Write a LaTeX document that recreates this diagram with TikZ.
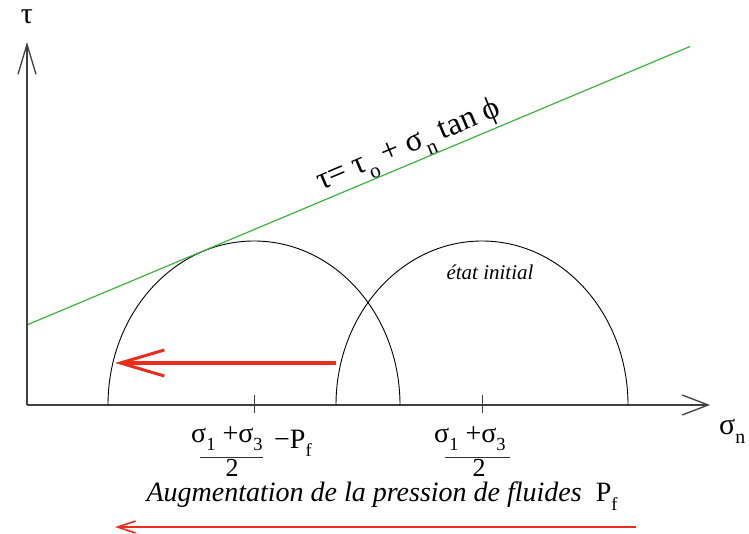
\documentclass[tikz,border=0pt]{standalone}
\usepackage{fontspec}
\setmainfont{Liberation Serif}
\usepackage{graphicx}
\usetikzlibrary{arrows.meta}
\definecolor{lgreen}{RGB}{60,180,60}
\definecolor{ared}{RGB}{235,45,30}
\newcommand{\lsub}[1]{\raisebox{-0.3em}{\scalebox{0.66}{#1}}}
\begin{document}
\begin{tikzpicture}[x=1pt,y=1pt,
  axis/.style={draw=black!75, line width=1.3pt},
  mohr/.style={draw=black, line width=0.9pt},
  lbl/.style={font=\fontsize{30}{34}\selectfont, inner sep=0pt},
  num/.style={font=\fontsize{28}{32}\selectfont, inner sep=0pt},
  den/.style={font=\fontsize{26}{30}\selectfont, inner sep=0pt},
  bar/.style={draw=black!80, line width=0.9pt}]
\useasboundingbox (0,0) rectangle (749,533);
% axes
\coordinate (O) at (27,128);
\coordinate (Ytip) at (27,491);
\coordinate (Xtip) at (710,128);
\draw[axis, -{Straight Barb[length=30pt,width=18pt]}] (O) -- (Ytip);
\draw[axis, -{Straight Barb[length=26pt,width=20pt]}] (O) -- (Xtip);
\node[lbl] (tau) at (27,516) {τ};
\node[lbl, anchor=base west] (sn) at (719,99) {σ\lsub{n}};
% Mohr semicircles
\coordinate (C1) at (254,128);
\coordinate (C2) at (482,128);
\draw[mohr] (400,128) arc[start angle=0,end angle=180,x radius=146,y radius=164];
\draw[mohr] (628,128) arc[start angle=0,end angle=180,x radius=146,y radius=164];
% ticks
\draw[black!75, line width=1pt] (254,120) -- (254,138);
\draw[black!75, line width=1pt] (482,120) -- (482,138);
% failure envelope
\coordinate (G1) at (28,208.5);
\coordinate (G2) at (690,486.5);
\draw[lgreen, line width=1.2pt] (G1) -- (G2)
  node[pos=0.585, sloped, above=-4pt, text=black, font=\fontsize{32}{36}\selectfont] (eq)
  {τ= τ\lsub{o} + σ\lsub{n} tan ϕ};
% état initial
\node[font=\fontsize{21}{24}\selectfont\itshape] (ei) at (490,261) {état initial};
% red arrow inside
\coordinate (R1) at (336,170);
\coordinate (R2) at (115,170);
\draw[ared, line width=3.2pt, -{Straight Barb[length=44pt,width=26pt,line width=3pt]}] (R1) -- (R2);
% labels under axis: left
\node[num, anchor=base west] (n1) at (191,91) {σ\lsub{1} +σ\lsub{3}};
\draw[bar] (200,76) -- (263,76);
\node[den, anchor=base] (d1) at (232,57) {2};
\node[num, anchor=base west] (p1) at (274,85) {−P\lsub{f}};
% labels under axis: right
\node[num, anchor=base west] (n2) at (434,91) {σ\lsub{1} +σ\lsub{3}};
\draw[bar] (445,76) -- (510,76);
\node[den, anchor=base] (d2) at (479,57) {2};
% bottom
\node[font=\fontsize{28}{32}\selectfont] (aug) at (382,37)
  {\textit{Augmentation de la pression de fluides}\ \ P\lsub{f}};
\coordinate (B1) at (636,6);
\coordinate (B2) at (115,6);
\draw[ared, line width=1.6pt, -{Straight Barb[length=18pt,width=12pt]}] (B1) -- (B2);
\end{tikzpicture}
\end{document}
